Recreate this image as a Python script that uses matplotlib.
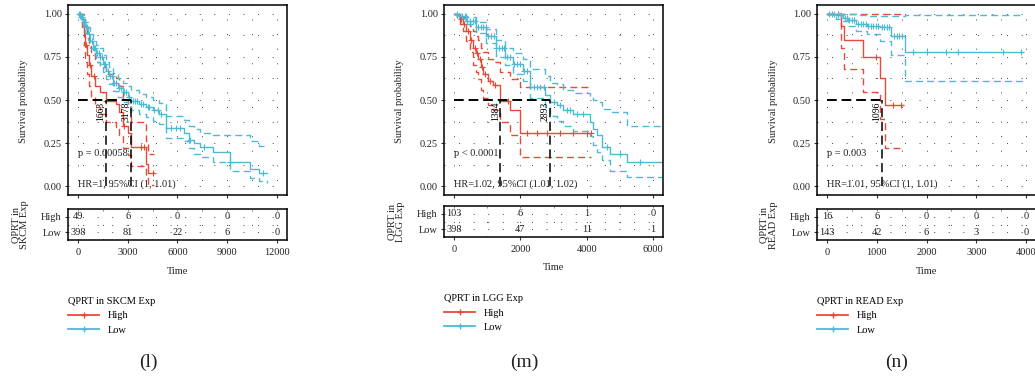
import matplotlib.pyplot as plt
import numpy as np
from matplotlib.lines import Line2D

plt.rcParams['font.family'] = ['Liberation Serif', 'DejaVu Serif']

RED = '#E64B35'
CYAN = '#4DBBD5'
W, H = 1035, 381

# ---------- (l) SKCM ----------
l_high_t = [0, 250, 350, 450, 550, 650, 800, 1000, 1300, 1663, 2300, 2500, 2700, 3000, 3180, 4130, 4250, 4600]
l_high_s = [1.0, .97, .90, .82, .76, .70, .64, .58, .545, .495, .475, .43, .35, .31, .23, .13, .075, .075]
l_high_hi = [1.0, 1.0, .97, .92, .87, .82, .77, .72, .69, .65, .625, .58, .50, .46, .37, .26, .19, .19]
l_high_lo = [1.0, .92, .82, .72, .65, .58, .52, .46, .42, .37, .345, .30, .22, .18, .12, .05, .01, .01]
l_high_cens = [460, 700, 960, 1700, 2750, 3820, 4000, 4530]

l_low_t = [0, 150, 300, 450, 600, 750, 900, 1100, 1300, 1500, 1700, 1900, 2100, 2400, 2700, 3000,
           3178, 3700, 4100, 4500, 4900, 5300, 6400, 6700, 7000, 7350, 8150, 9150, 10370, 10900, 11400]
l_low_s = [1.0, .98, .95, .92, .88, .84, .80, .77, .75, .71, .67, .64, .60, .57, .545, .52,
           .495, .475, .46, .44, .42, .34, .31, .27, .25, .23, .20, .14, .10, .075, .075]
l_low_hi = [1.0, .995, .975, .95, .92, .88, .85, .82, .80, .76, .72, .69, .655, .625, .60, .58,
            .555, .535, .52, .50, .485, .41, .385, .35, .33, .31, .30, .30, .26, .235, .235]
l_low_lo = [1.0, .965, .93, .89, .85, .80, .76, .72, .70, .66, .62, .59, .55, .52, .49, .465,
            .44, .42, .40, .38, .36, .28, .26, .22, .19, .17, .14, .09, .05, .03, .02]
l_low_cens = [50, 100, 200, 250, 350, 420, 480, 550, 680, 820, 980, 1050, 1150, 1250, 1350, 1450,
              1550, 1650, 1800, 1950, 2050, 2200, 2300, 2500, 2600, 2800, 2900, 3100, 3300, 3450,
              3550, 3800, 3950, 4200, 4300, 4600, 4800, 5000, 5600, 5900, 6140, 6745, 7600, 9160, 11175]
l_medians = [1663, 3178]
l_high_n = [49, 6, 0, 0, 0]
l_low_n = [398, 81, 22, 6, 0]
l_xticks = [0, 3000, 6000, 9000, 12000]

# ---------- (m) LGG ----------
m_high_t = [0, 100, 170, 270, 370, 470, 575, 650, 725, 800, 875, 1025, 1175, 1384, 1680, 1980, 4140]
m_high_s = [1.0, .99, .97, .94, .90, .85, .80, .77, .74, .69, .65, .61, .585, .495, .44, .31, .31]
m_high_hi = [1.0, 1.0, .995, .98, .96, .93, .90, .87, .85, .80, .78, .74, .72, .66, .62, .575, .575]
m_high_lo = [1.0, .97, .94, .90, .84, .78, .70, .66, .62, .56, .51, .47, .44, .37, .30, .17, .17]
m_high_cens = [200, 300, 420, 520, 620, 700, 780, 850, 950, 1100, 1250, 1630, 2200, 2500, 2800,
               3200, 3600, 4000, 4140]

m_low_t = [0, 150, 370, 670, 975, 1280, 1530, 1780, 2090, 2290, 2750, 2893, 3100, 3300, 3600,
           4100, 4180, 4300, 4450, 4700, 5200, 6280]
m_low_s = [1.0, .985, .96, .92, .87, .80, .75, .71, .67, .575, .53, .49, .47, .44, .42,
           .37, .33, .30, .23, .19, .14, .14]
m_low_hi = [1.0, .995, .98, .95, .91, .85, .80, .77, .735, .68, .64, .60, .595, .56, .54,
            .525, .50, .49, .45, .43, .35, .35]
m_low_lo = [1.0, .975, .94, .89, .83, .75, .70, .65, .61, .51, .46, .41, .38, .35, .32,
            .29, .24, .20, .15, .09, .055, .055]
m_low_cens = [80, 160, 240, 320, 400, 480, 560, 640, 720, 800, 880, 960, 1040, 1120, 1200, 1280,
              1360, 1440, 1520, 1600, 1700, 1800, 1900, 2000, 2100, 2200, 2400, 2500, 2600, 2700,
              3000, 3200, 3400, 3500, 3700, 3900, 4600, 5000, 5600]
m_medians = [1384, 2893]
m_high_n = [103, 6, 1, 0]
m_low_n = [398, 47, 11, 1]
m_xticks = [0, 2000, 4000, 6000]

# ---------- (n) READ ----------
n_high_t = [0, 290, 335, 720, 1070, 1170, 1530]
n_high_s = [1.0, .93, .85, .75, .63, .47, .47]
n_high_hi = [1.0, 1.0, 1.0, 1.0, .995, .995, .995]
n_high_lo = [1.0, .80, .68, .545, .39, .22, .22]
n_high_cens = [220, 990, 1330, 1490]

n_low_t = [0, 190, 320, 420, 590, 800, 1060, 1290, 1560, 3940]
n_low_s = [1.0, .99, .975, .965, .94, .93, .92, .87, .78, .78]
n_low_hi = [1.0, 1.0, 1.0, 1.0, .99, .985, .985, .985, .99, .99]
n_low_lo = [1.0, .97, .955, .93, .90, .88, .84, .76, .61, .61]
n_low_cens = [50, 100, 150, 230, 280, 360, 400, 450, 500, 540, 620, 680, 730, 780, 830, 880,
              930, 980, 1030, 1100, 1150, 1200, 1250, 1350, 1400, 1450, 1500, 1730, 2000, 2400,
              2630, 3530, 3900]
n_medians = [1096]
n_high_n = [16, 6, 0, 0, 0]
n_low_n = [143, 42, 6, 3, 0]
n_xticks = [0, 1000, 2000, 3000, 4000]

GRID = dict(color='#444444', lw=0.7, ls=(0, (1, 14)))
FS = 7.5


def draw_curve(ax, t, s, lo, hi, cens, color):
    ax.step(t, hi, where='post', color=color, lw=1.0, ls=(0, (5, 3)))
    ax.step(t, lo, where='post', color=color, lw=1.0, ls=(0, (5, 3)))
    ax.step(t, s, where='post', color=color, lw=1.0)
    idx = np.searchsorted(t, cens, side='right') - 1
    ax.plot(cens, np.asarray(s)[idx], ls='none', marker='+', ms=4.5, mew=0.8, color=color)


def style_axes(ax, xticks):
    xmax = xticks[-1]
    ax.set_xlim(-0.05 * xmax, 1.05 * xmax)
    ax.set_xticks(xticks)
    step = xticks[1] - xticks[0]
    ax.set_xticks(np.arange(step / 2, xmax, step), minor=True)
    ax.tick_params(which='minor', length=0)
    ax.tick_params(which='major', length=2.5, width=0.8, pad=2, labelsize=FS, color='#333333',
                   labelcolor='#222222')
    ax.grid(which='both', **GRID)
    for sp in ax.spines.values():
        sp.set_linewidth(1.1)


def panel(x0, tab_top, name, letter, xticks, high, low, medians, ptxt, hrtxt, high_n, low_n):
    ax = fig.add_axes([x0 / W, 1 - 195 / H, 219 / W, 190 / H])
    style_axes(ax, xticks)
    ax.set_ylim(-0.05, 1.05)
    ax.set_yticks([0, 0.25, 0.5, 0.75, 1.0])
    ax.set_yticks([0.125, 0.375, 0.625, 0.875], minor=True)
    ax.set_yticklabels(['0.00', '0.25', '0.50', '0.75', '1.00'])
    ax.tick_params(labelbottom=False)
    draw_curve(ax, *high, RED)
    draw_curve(ax, *low, CYAN)
    ax.plot([0, max(medians)], [0.5, 0.5], color='black', lw=1.4, ls=(0, (5, 2.5)))
    for md in medians:
        ax.plot([md, md], [0, 0.5], color='black', lw=1.1, ls=(0, (6, 3)))
        ax.text(md, 0.49, str(md), rotation=90, ha='right', va='top', fontsize=7)
    ax.text(0, 0.19, ptxt, fontsize=FS, ha='left', va='center', color='#222222')
    ax.text(0, 0.01, hrtxt, fontsize=FS, ha='left', va='center', color='#222222')
    fig.text((x0 - 44) / W, 1 - 101 / H, 'Survival probability', rotation=90,
             ha='center', va='center', fontsize=FS, color='#222222')

    tab = fig.add_axes([x0 / W, 1 - (tab_top + 31) / H, 219 / W, 31 / H])
    style_axes(tab, xticks)
    tab.set_ylim(0.5, 2.5)
    tab.set_yticks([1, 2])
    tab.set_yticks([1.5], minor=True)
    tab.set_yticklabels(['Low', 'High'])
    tab.tick_params(axis='x', pad=3)
    for x, n in zip(xticks, high_n):
        tab.text(x, 2, str(n), ha='center', va='center', fontsize=FS, color='#222222')
    for x, n in zip(xticks, low_n):
        tab.text(x, 1, str(n), ha='center', va='center', fontsize=FS, color='#222222')
    fig.text((x0 - 48) / W, 1 - (tab_top + 16) / H, 'QPRT in\n' + name + ' Exp', rotation=90,
             ha='center', va='center', fontsize=FS, multialignment='center', linespacing=1.0,
             color='#222222')
    fig.text((x0 + 110) / W, 1 - (tab_top + 62) / H, 'Time', ha='center', va='center',
             fontsize=FS, color='#222222')

    handles = [Line2D([], [], color=RED, lw=1.3, marker='+', ms=4.5),
               Line2D([], [], color=CYAN, lw=1.3, marker='+', ms=4.5)]
    fig.legend(handles, ['High', 'Low'], title='QPRT in ' + name + ' Exp', loc='upper left',
               bbox_to_anchor=(x0 / W, 1 - (tab_top + 88) / H), frameon=False, fontsize=FS,
               title_fontsize=FS, handlelength=3.0, borderpad=0, borderaxespad=0,
               labelspacing=0.5, handletextpad=0.8, alignment='left')
    fig.text((x0 + 80) / W, 1 - 362 / H, letter, ha='center', va='center', fontsize=14,
             color='#222222')


fig = plt.figure(figsize=(W / 100, H / 100), dpi=100)

panel(68, 209, 'SKCM', '(l)', l_xticks,
      (l_high_t, l_high_s, l_high_lo, l_high_hi, l_high_cens),
      (l_low_t, l_low_s, l_low_lo, l_low_hi, l_low_cens),
      l_medians, 'p = 0.00058', 'HR=1, 95%CI (1, 1.01)', l_high_n, l_low_n)
panel(444, 206, 'LGG', '(m)', m_xticks,
      (m_high_t, m_high_s, m_high_lo, m_high_hi, m_high_cens),
      (m_low_t, m_low_s, m_low_lo, m_low_hi, m_low_cens),
      m_medians, 'p < 0.0001', 'HR=1.02, 95%CI (1.01, 1.02)', m_high_n, m_low_n)
panel(817, 209, 'READ', '(n)', n_xticks,
      (n_high_t, n_high_s, n_high_lo, n_high_hi, n_high_cens),
      (n_low_t, n_low_s, n_low_lo, n_low_hi, n_low_cens),
      n_medians, 'p = 0.003', 'HR=1.01, 95%CI (1, 1.01)', n_high_n, n_low_n)

fig.savefig('out.png', dpi=100)
